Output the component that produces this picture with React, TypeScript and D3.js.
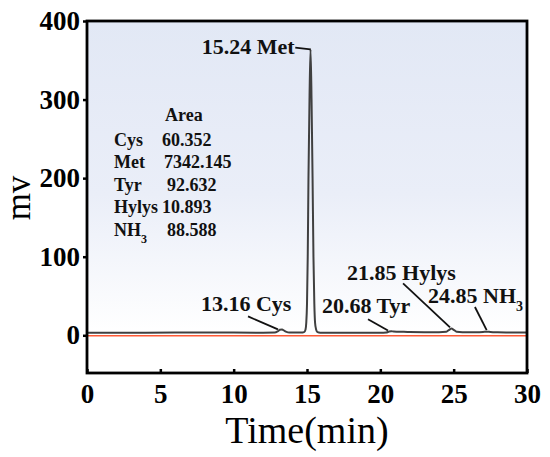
import { useEffect, useRef } from "react";
import * as d3 from "d3";

// chromatogram trace (time in min, signal in mv)
const traceTime = [
  0, 2, 4, 6, 8, 10, 12, 12.8, 13.0, 13.15, 13.3, 13.45, 13.6, 13.8, 14.2, 14.6,
  14.8, 14.9, 14.95, 15.0, 15.05, 15.1, 15.17, 15.24, 15.31, 15.38, 15.44, 15.5,
  15.55, 15.62, 15.72, 15.9, 16.5, 18, 20, 20.4, 20.6, 20.75, 20.9, 21.2, 21.6,
  22, 23, 24, 24.5, 24.7, 24.85, 25.0, 25.2, 25.6, 26.5, 27.0, 27.25, 27.5, 28,
  29, 30,
];
const traceMv = [
  3.2, 3.2, 3.3, 3.4, 3.5, 3.4, 3.3, 3.5, 5.0, 7.0, 7.3, 5.8, 4.4, 3.6, 3.4, 3.4,
  4.0, 7.5, 16, 40, 100, 200, 300, 364, 300, 200, 100, 40, 16, 7.5, 4.0, 3.3, 3.2,
  3.2, 3.3, 3.6, 4.8, 5.2, 4.8, 4.6, 4.4, 4.2, 4.0, 4.0, 4.6, 7.0, 8.5, 7.0,
  4.6, 4.0, 3.9, 4.2, 4.6, 4.2, 3.8, 3.5, 3.4,
];

// peak labels: text, text position (data coords), leader from / to
const peakLabels = ["15.24 Met", "13.16 Cys", "20.68 Tyr", "21.85 Hylys", "24.85 NH"];
const peakAnchor = ["end", "start", "start", "start", "start"];
const peakLabelX = [14.15, 7.77, 16.02, 17.73, 23.25];
const peakLabelY = [358, 31, 29, 71, 41];
const leaderFrom: [number, number][] = [[14.2, 366], [10.98, 24], [19.16, 20.5], [21.55, 66], [26.45, 36]];
const leaderTo: [number, number][] = [[15.24, 364], [13.02, 7.5], [20.52, 6], [24.75, 10], [27.25, 6.5]];

// area table
const areaNames = ["Cys", "Met", "Tyr", "Hylys", "NH"];
const areaValues = ["60.352", "7342.145", "92.632", "10.893", "88.588"];

const xTicks = [0, 5, 10, 15, 20, 25, 30];
const yTicks = [0, 100, 200, 300, 400];

const W = 550;
const H = 457;
const M = { left: 87, right: 527, top: 21, bottom: 373 };
const FONT = "'Liberation Serif', 'Times New Roman', serif";

export default function App() {
  const ref = useRef<SVGSVGElement>(null);

  useEffect(() => {
    if (!ref.current) return;
    const svg = d3.select(ref.current);
    svg.selectAll("*").remove();

    const x = d3.scaleLinear().domain([0, 30]).range([M.left, M.right]);
    const y = d3.scaleLinear().domain([-48, 400]).range([M.bottom, M.top]);

    const defs = svg.append("defs");
    const grad = defs.append("linearGradient")
      .attr("id", "bg").attr("x1", 0).attr("y1", 0).attr("x2", 0).attr("y2", 1);
    const zeroFrac = (y(0) - M.top) / (M.bottom - M.top);
    grad.append("stop").attr("offset", 0).attr("stop-color", "#e2e8f5");
    grad.append("stop").attr("offset", zeroFrac * 0.55).attr("stop-color", "#eaeef8");
    grad.append("stop").attr("offset", zeroFrac).attr("stop-color", "#ffffff");
    grad.append("stop").attr("offset", 1).attr("stop-color", "#ffffff");

    svg.append("rect")
      .attr("x", M.left).attr("y", M.top)
      .attr("width", M.right - M.left).attr("height", M.bottom - M.top)
      .attr("fill", "url(#bg)");

    // trace
    const pts = traceTime.map((t, i) => [t, traceMv[i]] as [number, number]);
    const line = d3.line<[number, number]>()
      .x((d) => x(d[0]))
      .y((d) => y(d[1]))
      .curve(d3.curveMonotoneX);
    svg.append("path")
      .attr("d", line(pts))
      .attr("fill", "none")
      .attr("stroke", "#404040")
      .attr("stroke-width", 2);

    // zero reference line
    svg.append("line")
      .attr("x1", M.left).attr("x2", M.right)
      .attr("y1", y(0) + 0.5).attr("y2", y(0) + 0.5)
      .attr("stroke", "#ff5a36").attr("stroke-width", 1.4);

    // frame
    svg.append("rect")
      .attr("x", M.left).attr("y", M.top)
      .attr("width", M.right - M.left).attr("height", M.bottom - M.top)
      .attr("fill", "none").attr("stroke", "#000").attr("stroke-width", 2.8);

    // x axis (ticks inward)
    const xAxis = svg.append("g")
      .attr("transform", `translate(0,${M.bottom})`)
      .call(d3.axisBottom(x).tickValues(xTicks).tickSizeInner(-4).tickSizeOuter(0).tickPadding(11))
      .attr("font-family", FONT);
    xAxis.select(".domain").remove();
    xAxis.selectAll("line").attr("stroke", "#000").attr("stroke-width", 2.5);
    xAxis.selectAll("text")
      .attr("font-family", FONT).attr("font-weight", "bold").attr("font-size", 27)
      .attr("fill", "#000");

    // y axis (ticks outward)
    const yAxis = svg.append("g")
      .attr("transform", `translate(${M.left},0)`)
      .call(d3.axisLeft(y).tickValues(yTicks).tickSizeInner(4).tickSizeOuter(0).tickPadding(3))
      .attr("font-family", FONT);
    yAxis.select(".domain").remove();
    yAxis.selectAll("line").attr("stroke", "#000").attr("stroke-width", 2.5);
    yAxis.selectAll("text")
      .attr("font-family", FONT).attr("font-weight", "bold").attr("font-size", 27)
      .attr("fill", "#000");

    // axis titles
    svg.append("text")
      .attr("x", (M.left + M.right) / 2).attr("y", 443)
      .attr("text-anchor", "middle")
      .attr("font-family", FONT).attr("font-size", 38)
      .text("Time(min)");
    svg.append("text")
      .attr("transform", `translate(30,198) rotate(-90)`)
      .attr("text-anchor", "middle")
      .attr("font-family", FONT).attr("font-size", 35)
      .text("mv");

    // peak labels and leaders
    peakLabels.forEach((lab, i) => {
      const t = svg.append("text")
        .attr("x", x(peakLabelX[i])).attr("y", y(peakLabelY[i]))
        .attr("text-anchor", peakAnchor[i])
        .attr("font-family", FONT).attr("font-weight", "bold").attr("font-size", 22)
        .attr("fill", "#111")
        .text(lab);
      if (lab.endsWith("NH")) {
        t.append("tspan").attr("baseline-shift", "sub").attr("font-size", 14).text("3");
      }
      svg.append("line")
        .attr("x1", x(leaderFrom[i][0])).attr("y1", y(leaderFrom[i][1]))
        .attr("x2", x(leaderTo[i][0])).attr("y2", y(leaderTo[i][1]))
        .attr("stroke", "#111").attr("stroke-width", 1.8);
    });

    // area table
    const tbl = svg.append("g")
      .attr("font-family", FONT).attr("font-weight", "bold").attr("font-size", 18).attr("fill", "#111");
    tbl.append("text").attr("x", 165).attr("y", 121).text("Area");
    areaNames.forEach((n, i) => {
      const yy = 145.5 + i * 22.6;
      const t = tbl.append("text").attr("x", 114).attr("y", yy).text(n);
      if (n === "NH") t.append("tspan").attr("baseline-shift", "sub").attr("font-size", 12).text("3");
      const vx = [162, 164, 167, 162, 167][i];
      tbl.append("text").attr("x", vx).attr("y", yy).text(areaValues[i]);
    });
  }, []);

  return (
    <div style={{ position: "absolute", left: 0, top: 0, background: "#fff" }}>
      <svg ref={ref} width={W} height={H} style={{ display: "block" }} />
    </div>
  );
}
